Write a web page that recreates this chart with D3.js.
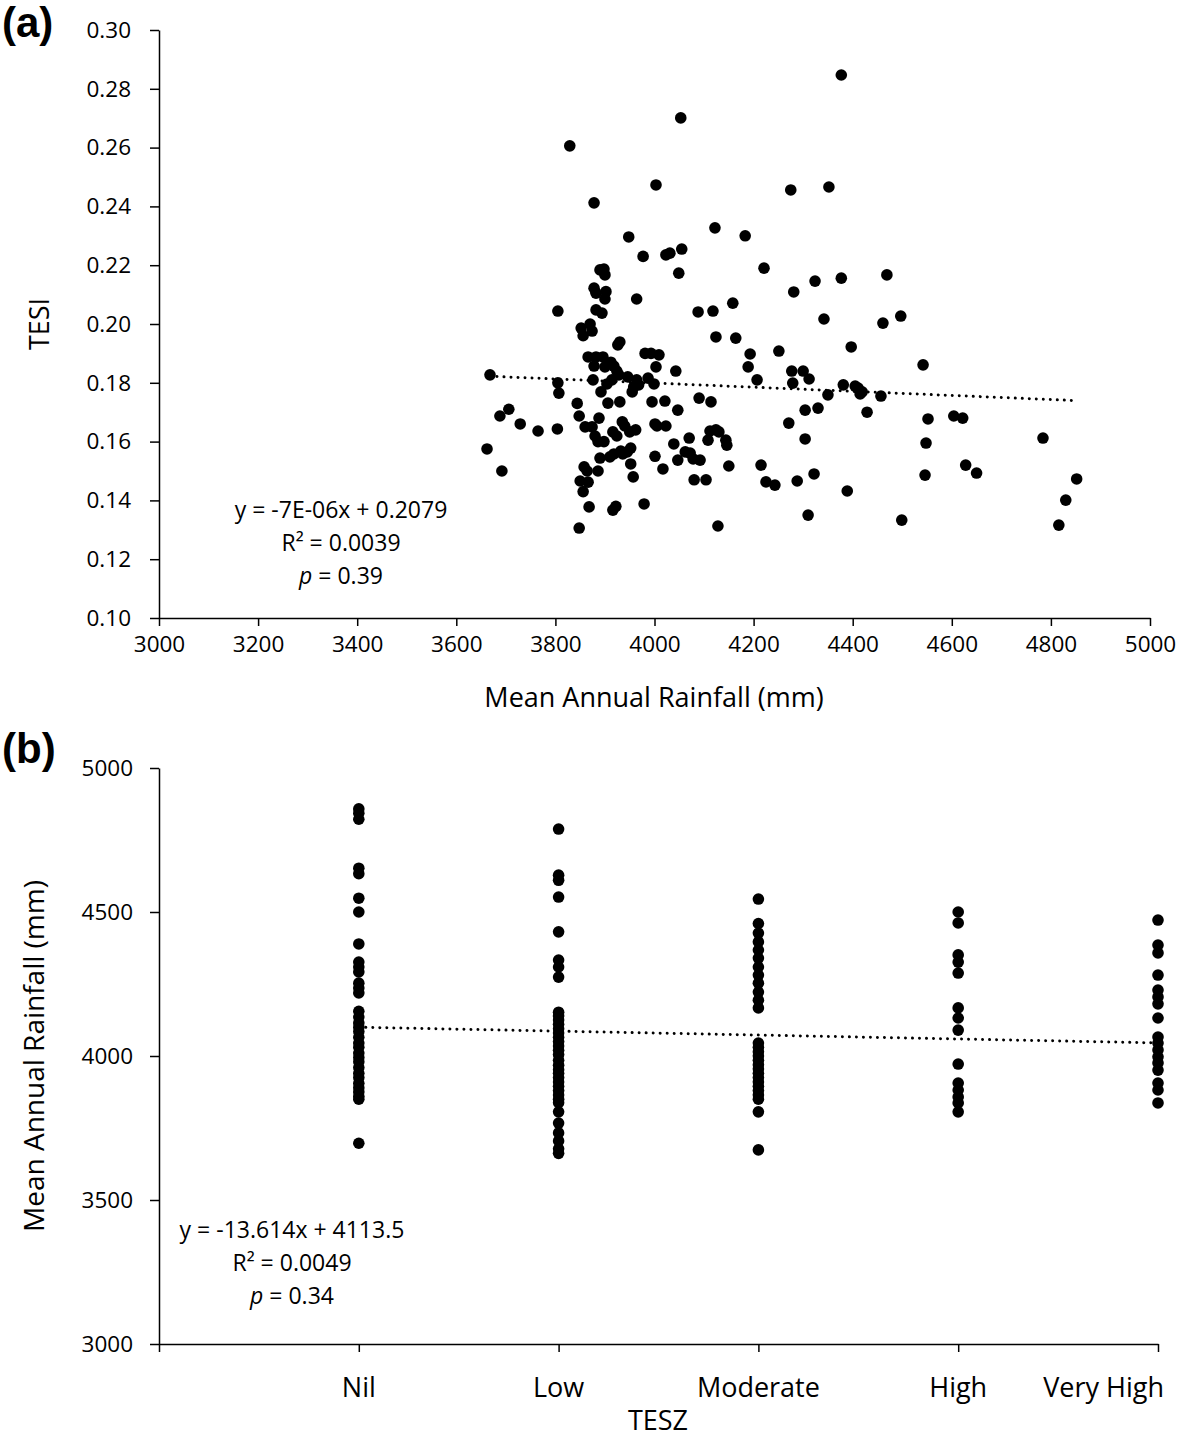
<!DOCTYPE html>
<html>
<head>
<meta charset="utf-8">
<script src="https://cdn.jsdelivr.net/npm/d3@7"></script>
<style>
  html, body { margin: 0; padding: 0; background: #fff; }
  svg { display: block; font-family: "Open Sans", "Liberation Sans", sans-serif; }
</style>
</head>
<body>
<svg id="chart" width="1181" height="1438"></svg>
<script>
// ---------- Panel (a) data: Mean annual rainfall (mm) vs TESI ----------
const rainfallA = [
  3662, 3668, 3692, 3688, 3706, 3729, 3765, 3804, 3805, 3807, 3805, 3829, 3844, 3848, 3848, 3850,
  3852, 3856, 3856, 3858, 3860, 3864, 3866, 3866, 3868, 3870, 3874, 3874, 3876, 3878, 3878, 3878,
  3880, 3882, 3882, 3882, 3886, 3886, 3888, 3890, 3890, 3892, 3894, 3896, 3898, 3898, 3900, 3900,
  3900, 3902, 3904, 3906, 3910, 3912, 3914, 3916, 3916, 3918, 3918, 3922, 3924, 3926, 3928, 3930,
  3930, 3932, 3935, 3936, 3940, 3945, 3946, 3948, 3950, 3952, 3952, 3955, 3957, 3958, 3962, 3964,
  3964, 3968, 3981, 3979, 3977, 3987, 3993, 3995, 3999, 4001, 4001, 4003, 4003, 4005, 4009, 4017,
  4021, 4023, 4023, 4031, 4039, 4043, 4047, 4047, 4049, 4053, 4055, 4062, 4070, 4072, 4078, 4080,
  4088, 4090, 4092, 4104, 4108, 4112, 4114, 4118, 4122, 4124, 4124, 4128, 4130, 4144, 4146, 4150,
  4158, 4164, 4183, 4189, 4193, 4207, 4215, 4221, 4225, 4243, 4251, 4271, 4275, 4277, 4279, 4281,
  4288, 4300, 4304, 4304, 4310, 4312, 4322, 4324, 4330, 4342, 4350, 4352, 4377, 4377, 4381, 4389,
  4397, 4405, 4411, 4415, 4419, 4429, 4457, 4461, 4469, 4497, 4499, 4542, 4546, 4548, 4552, 4604,
  4622, 4628, 4650, 4784, 4816, 4830, 4852, 3924
];
const tesiA = [
  0.1575, 0.1827, 0.1500, 0.1687, 0.1710, 0.1660, 0.1636, 0.1643, 0.1800, 0.1765, 0.2044, 0.2606, 0.1730, 0.1687, 0.1306, 0.1466,
  0.1986, 0.1960, 0.1430, 0.1514, 0.1650, 0.1500, 0.1888, 0.1462, 0.1378, 0.2000, 0.1976, 0.1650, 0.1810, 0.1857, 0.2412, 0.2122,
  0.1619, 0.2105, 0.2048, 0.1888, 0.1600, 0.1500, 0.1680, 0.1544, 0.2184, 0.1769, 0.2037, 0.1888, 0.2187, 0.1600, 0.1854, 0.2085,
  0.2167, 0.2110, 0.1796, 0.1731, 0.1548, 0.1870, 0.1810, 0.1633, 0.1367, 0.1857, 0.1558, 0.1380, 0.1619, 0.1929, 0.1827, 0.1939,
  0.1735, 0.1568, 0.1667, 0.1558, 0.1653, 0.1565, 0.1820, 0.2296, 0.1633, 0.1578, 0.1524, 0.1769, 0.1480, 0.1786, 0.1640, 0.2085,
  0.1810, 0.1793, 0.1900, 0.1388, 0.2230, 0.1816, 0.1900, 0.1735, 0.1796, 0.1660, 0.1550, 0.1854, 0.2473, 0.1653, 0.1895, 0.1507,
  0.1738, 0.1653, 0.2235, 0.2241, 0.1592, 0.1840, 0.1707, 0.1537, 0.2173, 0.2701, 0.2255, 0.1565, 0.1612, 0.1561, 0.1541, 0.1470,
  0.2041, 0.1748, 0.1537, 0.1470, 0.1605, 0.1636, 0.1735, 0.2044, 0.2327, 0.1956, 0.1640, 0.1313, 0.1633, 0.1605, 0.1588, 0.1517,
  0.2071, 0.1952, 0.2300, 0.1854, 0.1898, 0.1810, 0.1520, 0.2190, 0.1463, 0.1452, 0.1908, 0.1663, 0.2456, 0.1840, 0.1799, 0.2109,
  0.1466, 0.1840, 0.1707, 0.1609, 0.1350, 0.1813, 0.1490, 0.2146, 0.1714, 0.2017, 0.1759, 0.2466, 0.2847, 0.2156, 0.1793, 0.1432,
  0.1922, 0.1789, 0.1782, 0.1762, 0.1769, 0.1700, 0.1755, 0.2003, 0.2167, 0.2027, 0.1333, 0.1861, 0.1486, 0.1595, 0.1677, 0.1687,
  0.1680, 0.1520, 0.1493, 0.1612, 0.1316, 0.1401, 0.1473, 0.1840
];
const xTicksA = [3000, 3200, 3400, 3600, 3800, 4000, 4200, 4400, 4600, 4800, 5000];
const yTicksA = [0.10, 0.12, 0.14, 0.16, 0.18, 0.20, 0.22, 0.24, 0.26, 0.28, 0.30];
const trendA = { slope: -7e-6, intercept: 0.2079, x0: 3668, x1: 4852 };
const eqA = ["y = -7E-06x + 0.2079", "R² = 0.0039", "0.39"];

// ---------- Panel (b) data: TESZ category vs mean annual rainfall ----------
const categoriesB = ["Nil", "Low", "Moderate", "High", "Very High"];
const rainNil = [4858, 4843, 4822, 4652, 4633, 4548, 4500, 4389, 4326, 4309, 4292, 4253, 4236, 4219,
  4155, 4135, 4115, 4100, 4085, 4065, 4045, 4030, 4010, 3995, 3980, 3960, 3940, 3925, 3905, 3890,
  3875, 3860, 3850, 3697];
const rainLow = [4788, 4628, 4610, 4552, 4431, 4333, 4309, 4274, 4152, 4140, 4125, 4110, 4095, 4080,
  4065, 4050, 4035, 4020, 4005, 3985, 3968, 3952, 3940, 3925, 3910, 3895, 3880, 3865, 3850, 3838,
  3806, 3767, 3733, 3705, 3678, 3662];
const rainModerate = [4545, 4460, 4427, 4396, 4368, 4340, 4309, 4281, 4253, 4222, 4194, 4167, 4045,
  4030, 4015, 4000, 3985, 3970, 3955, 3940, 3925, 3910, 3895, 3880, 3865, 3850, 3806, 3674];
const rainHigh = [4500, 4462, 4351, 4326, 4288, 4167, 4132, 4090, 3972, 3906, 3882, 3858, 3837, 3806];
const rainVeryHigh = [4472, 4385, 4358, 4281, 4229, 4205, 4181, 4132, 4066, 4045, 4021, 3997, 3976,
  3951, 3906, 3882, 3837];
const yTicksB = [3000, 3500, 4000, 4500, 5000];
const trendB = { slope: -13.614, intercept: 4113.5, x0: 1, x1: 5 };
const eqB = ["y = -13.614x + 4113.5", "R² = 0.0049", "0.34"];

// ---------- drawing ----------
const svg = d3.select("#chart");
const dotR = 5.8;
const tickFont = 22.5;
const titleFont = 27;
const eqFont = 23;

function dotted(g, pts) {
  g.append("path")
    .attr("d", d3.line()(pts))
    .attr("fill", "none")
    .attr("stroke", "#000")
    .attr("stroke-width", 3)
    .attr("stroke-linecap", "round")
    .attr("stroke-dasharray", "0.01 7");
}

function styleAxis(g) {
  g.selectAll(".domain").attr("stroke", "#000").attr("stroke-width", 1.5);
  g.selectAll(".tick line").attr("stroke", "#000").attr("stroke-width", 1.5);
  g.selectAll(".tick text").attr("fill", "#000").attr("font-size", tickFont)
    .attr("font-family", '"Open Sans", sans-serif');
}

function equation(lines, cx, y0, dy) {
  const g = svg.append("g").attr("font-size", eqFont).attr("fill", "#000").attr("text-anchor", "middle");
  g.append("text").attr("x", cx).attr("y", y0).text(lines[0]);
  g.append("text").attr("x", cx).attr("y", y0 + dy).text(lines[1]);
  const t = g.append("text").attr("x", cx).attr("y", y0 + 2 * dy);
  t.append("tspan").attr("font-style", "italic").text("p");
  t.append("tspan").text(" = " + lines[2]);
}

// Panel (a)
const xA = d3.scaleLinear().domain([3000, 5000]).range([159, 1150]);
const yA = d3.scaleLinear().domain([0.10, 0.30]).range([618, 30]);

const gxA = svg.append("g").attr("transform", `translate(0,${yA(0.10)})`)
  .call(d3.axisBottom(xA).tickValues(xTicksA).tickFormat(d3.format("d")).tickSize(8).tickSizeOuter(0).tickPadding(10));
styleAxis(gxA);
const gyA = svg.append("g").attr("transform", `translate(${xA(3000)},0)`)
  .call(d3.axisLeft(yA).tickValues(yTicksA).tickFormat(d3.format(".2f")).tickSize(9).tickSizeOuter(0).tickPadding(19));
styleAxis(gyA);

dotted(svg, [[xA(trendA.x0), yA(trendA.intercept + trendA.slope * trendA.x0)],
             [xA(trendA.x1), yA(trendA.intercept + trendA.slope * trendA.x1)]]);

svg.append("g").selectAll("circle").data(d3.range(rainfallA.length)).join("circle")
  .attr("cx", i => xA(rainfallA[i])).attr("cy", i => yA(tesiA[i])).attr("r", dotR).attr("fill", "#000");

svg.append("text").attr("x", 654).attr("y", 707).attr("text-anchor", "middle")
  .attr("font-size", titleFont).text("Mean Annual Rainfall (mm)");
svg.append("text").attr("transform", "translate(49,324) rotate(-90)").attr("text-anchor", "middle")
  .attr("font-size", titleFont).text("TESI");
svg.append("text").attr("x", 2).attr("y", 37).attr("font-family", '"Liberation Sans", Arial, sans-serif')
  .attr("font-weight", "bold").attr("font-size", 42).text("(a)");
equation(eqA, 341, 518, 33);

// Panel (b)
const xB = d3.scaleLinear().domain([0, 5]).range([159, 1158]);
const yB = d3.scaleLinear().domain([3000, 5000]).range([1344, 768]);

const gxB = svg.append("g").attr("transform", `translate(0,${yB(3000)})`)
  .call(d3.axisBottom(xB).tickValues([0, 1, 2, 3, 4, 5]).tickFormat("").tickSize(8).tickSizeOuter(0));
styleAxis(gxB);
svg.append("g").attr("font-size", titleFont)
  .selectAll("text").data(categoriesB).join("text")
  .attr("text-anchor", (d, i) => i === categoriesB.length - 1 ? "end" : "middle")
  .attr("x", (d, i) => i === categoriesB.length - 1 ? xB(i + 1) + 6 : xB(i + 1))
  .attr("y", 1397).text(d => d);
const gyB = svg.append("g").attr("transform", `translate(${xB(0)},0)`)
  .call(d3.axisLeft(yB).tickValues(yTicksB).tickFormat(d3.format("d")).tickSize(9).tickSizeOuter(0).tickPadding(17));
styleAxis(gyB);

dotted(svg, [[xB(trendB.x0), yB(trendB.intercept + trendB.slope * trendB.x0)],
             [xB(trendB.x1), yB(trendB.intercept + trendB.slope * trendB.x1)]]);

const groupsB = [rainNil, rainLow, rainModerate, rainHigh, rainVeryHigh];
groupsB.forEach((arr, gi) => {
  svg.append("g").selectAll("circle").data(arr).join("circle")
    .attr("cx", xB(gi + 1)).attr("cy", d => yB(d)).attr("r", dotR).attr("fill", "#000");
});

svg.append("text").attr("x", 658).attr("y", 1430).attr("text-anchor", "middle")
  .attr("font-size", titleFont).text("TESZ");
svg.append("text").attr("transform", "translate(44,1056) rotate(-90)").attr("text-anchor", "middle")
  .attr("font-size", 28).text("Mean Annual Rainfall (mm)");
svg.append("text").attr("x", 2).attr("y", 763).attr("font-family", '"Liberation Sans", Arial, sans-serif')
  .attr("font-weight", "bold").attr("font-size", 42).text("(b)");
equation(eqB, 292, 1238, 33);
</script>
</body>
</html>
